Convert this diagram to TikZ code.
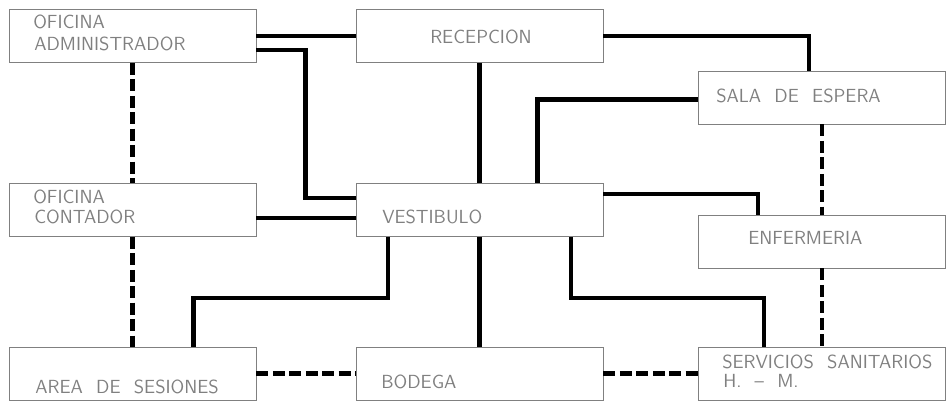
\documentclass[tikz,border=0pt]{standalone}
\usepackage{tikz}
\usetikzlibrary{calc}
\newcommand\roomfont{\fontsize{13.5}{16}\selectfont\sffamily\spaceskip=0.7em plus 0pt\relax}
\tikzset{
  roombox/.style={
    draw=black!50, line width=0.6pt, inner sep=0pt,
    minimum width=6.175cm, minimum height=1.325cm
  },
  roomtext/.style={
    anchor=base west, inner sep=0pt, text=black!50,
    font={\roomfont}
  },
  solidlink/.style={line width=3.1pt},
  dashlink/.style={line width=3.1pt, dash pattern=on 8.5pt off 3.2pt},
}
\begin{document}
\begin{tikzpicture}[x=0.025cm, y=-0.025cm]
  \useasboundingbox (0,0) rectangle (946,401);
  % Rooms
  \node[roombox] (admin) at (132.5,36) {};
  \node[roombox] (recep) at (479.5,36) {};
  \node[roombox] (sala)  at (822,97.5) {};
  \node[roombox] (conta) at (132.5,210) {};
  \node[roombox] (vest)  at (479.5,210) {};
  \node[roombox] (enf)   at (822,241.5) {};
  \node[roombox] (area)  at (132.5,373.5) {};
  \node[roombox] (bod)   at (479.5,373.5) {};
  \node[roombox] (serv)  at (822,373.5) {};
  % Labels
  \node[roomtext] (admintxt)  at (33,28)  {OFICINA};
  \node[roomtext] (admintxtb) at (34,50)  {ADMINISTRADOR};
  \node[roomtext] (receptxt)  at (430,43) {RECEPCION};
  \node[roomtext] (salatxt)   at (716,102) {SALA DE ESPERA};
  \node[roomtext] (contatxt)  at (33,203) {OFICINA};
  \node[roomtext] (contatxtb) at (34,223) {CONTADOR};
  \node[roomtext] (vesttxt)   at (382,223) {VESTIBULO};
  \node[roomtext] (enftxt)    at (748,244) {ENFERMERIA};
  \node[roomtext] (areatxt)   at (35,393) {AREA DE SESIONES};
  \node[roomtext] (bodtxt)    at (381,388) {BODEGA};
  \node[roomtext] (servtxt)   at (722,368) {SERVICIOS SANITARIOS};
  \node[roomtext] (servtxtb)  at (723,387) {H. \textendash{} M.};
  % Direct links
  \draw[solidlink] (admin.east) -- (recep.west);
  \draw[solidlink] ($(admin.east)+(0,14)$) -- ++(49,0) |- ($(vest.west)+(0,-12)$);
  \draw[solidlink] ($(conta.east)+(0,8)$) -- ($(vest.west)+(0,8)$);
  \draw[solidlink] (recep.south) -- (vest.north);
  \draw[solidlink] (recep.east) -| ($(sala.north)+(-13,0)$);
  \draw[solidlink] ($(sala.west)+(0,2)$) -| ($(vest.north)+(58,0)$);
  \draw[solidlink] ($(vest.east)+(0,-16)$) -| ($(enf.north)+(-64,0)$);
  \draw[solidlink] ($(vest.south)+(-91.5,0)$) -- ++(0,61) -| ($(area.north)+(61,0)$);
  \draw[solidlink] (vest.south) -- (bod.north);
  \draw[solidlink] ($(vest.south)+(91.5,0)$) -- ++(0,61) -| ($(serv.north)+(-58,0)$);
  % Secondary links
  \draw[dashlink] (admin.south) -- (conta.north);
  \draw[dashlink] (conta.south) -- (area.north);
  \draw[dashlink] (area.east) -- (bod.west);
  \draw[dashlink] (bod.east) -- (serv.west);
  \draw[dashlink] (sala.south) -- (enf.north);
  \draw[dashlink] (enf.south) -- (serv.north);
\end{tikzpicture}
\end{document}
